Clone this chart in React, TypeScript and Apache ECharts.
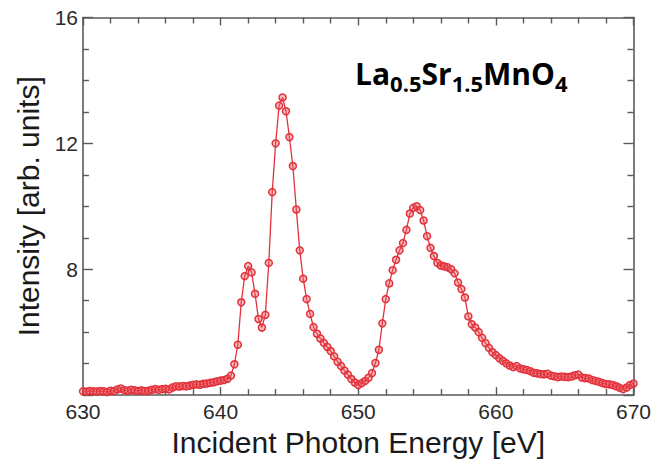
import React, { useEffect, useRef } from "react";
import * as echarts from "echarts";

const energies: number[] = [
  630.0, 630.25, 630.5, 630.75, 631.0, 631.25, 631.5, 631.75, 632.0, 632.25, 632.5, 632.75,
  633.0, 633.25, 633.5, 633.75, 634.0, 634.25, 634.5, 634.75, 635.0, 635.25, 635.5, 635.75,
  636.0, 636.25, 636.5, 636.75, 637.0, 637.25, 637.5, 637.75, 638.0, 638.25, 638.5, 638.75,
  639.0, 639.25, 639.5, 639.75, 640.0, 640.25, 640.5, 640.75, 641.0, 641.25, 641.5, 641.75,
  642.0, 642.25, 642.5, 642.75, 643.0, 643.25, 643.5, 643.75, 644.0, 644.25, 644.5, 644.75,
  645.0, 645.25, 645.5, 645.75, 646.0, 646.25, 646.5, 646.75, 647.0, 647.25, 647.5, 647.75,
  648.0, 648.25, 648.5, 648.75, 649.0, 649.25, 649.5, 649.75, 650.0, 650.25, 650.5, 650.75,
  651.0, 651.25, 651.5, 651.75, 652.0, 652.25, 652.5, 652.75, 653.0, 653.25, 653.5, 653.75,
  654.0, 654.25, 654.5, 654.75, 655.0, 655.25, 655.5, 655.75, 656.0, 656.25, 656.5, 656.75,
  657.0, 657.25, 657.5, 657.75, 658.0, 658.25, 658.5, 658.75, 659.0, 659.25, 659.5, 659.75,
  660.0, 660.25, 660.5, 660.75, 661.0, 661.25, 661.5, 661.75, 662.0, 662.25, 662.5, 662.75,
  663.0, 663.25, 663.5, 663.75, 664.0, 664.25, 664.5, 664.75, 665.0, 665.25, 665.5, 665.75,
  666.0, 666.25, 666.5, 666.75, 667.0, 667.25, 667.5, 667.75, 668.0, 668.25, 668.5, 668.75,
  669.0, 669.25, 669.5, 669.75, 670.0,
];

const intensities: number[] = [
  4.12, 4.11, 4.13, 4.12, 4.11, 4.13, 4.12, 4.1, 4.14, 4.13, 4.18, 4.21,
  4.16, 4.14, 4.17, 4.15, 4.13, 4.15, 4.13, 4.14, 4.17, 4.19, 4.17, 4.19,
  4.2, 4.18, 4.24, 4.28, 4.27, 4.29, 4.28, 4.3, 4.33, 4.34, 4.33, 4.36,
  4.37, 4.39, 4.41, 4.44, 4.46, 4.48, 4.52, 4.62, 4.98, 5.6, 6.95, 7.78,
  8.1, 7.9, 7.22, 6.42, 6.15, 6.55, 8.2, 10.45, 12.0, 13.2, 13.46, 13.02,
  12.2, 11.28, 9.9, 8.6, 7.7, 7.05, 6.58, 6.16, 5.95, 5.8, 5.66, 5.53,
  5.4, 5.23, 5.06, 4.92, 4.78, 4.65, 4.51, 4.4, 4.32, 4.38, 4.45, 4.55,
  4.7, 5.02, 5.44, 6.28, 7.05, 7.55, 7.97, 8.3, 8.6, 8.83, 9.25, 9.77,
  9.95, 10.0, 9.88, 9.55, 9.05, 8.68, 8.42, 8.2, 8.12, 8.09, 8.06, 8.0,
  7.87, 7.58, 7.37, 7.1, 6.5, 6.25, 6.15, 6.0, 5.82, 5.65, 5.5, 5.36,
  5.27, 5.17, 5.09, 5.01, 4.94, 4.89, 4.92, 4.85, 4.82, 4.8, 4.76, 4.71,
  4.69, 4.67, 4.66, 4.68, 4.62, 4.6, 4.57, 4.59, 4.58, 4.57, 4.59, 4.63,
  4.65, 4.56, 4.54, 4.53, 4.48, 4.45, 4.42, 4.38, 4.35, 4.34, 4.32, 4.28,
  4.23, 4.19, 4.24, 4.32, 4.37,
];

const xTitle = "Incident Photon Energy [eV]";
const yTitle = "Intensity [arb. units]";
const xRange = [630, 670];
const yRange = [4, 16];

const FONT = "'Liberation Sans', Arial, Helvetica, sans-serif";
const AXIS_COLOR = "#5a5a5a";
const RED = "#e3313b";

export default function App() {
  const ref = useRef<HTMLDivElement>(null);

  useEffect(() => {
    if (!ref.current) return;
    const chart = echarts.init(ref.current, undefined, { renderer: "svg" });
    const data = energies.map((e, i) => [e, intensities[i]]);

    const axisLine = { show: true, lineStyle: { color: AXIS_COLOR, width: 1.6 } };
    const tickStyle = { color: AXIS_COLOR, width: 1.4 };

    chart.setOption({
      animation: false,
      backgroundColor: "#ffffff",
      grid: { left: 83, right: 20, top: 17.5, bottom: 61 },
      xAxis: [
        {
          type: "value",
          min: xRange[0],
          max: xRange[1],
          interval: 10,
          position: "bottom",
          axisLine,
          axisTick: { show: true, inside: true, length: 8, lineStyle: tickStyle },
          minorTick: { show: true, splitNumber: 5, length: 6, lineStyle: tickStyle },
          splitLine: { show: false },
          axisLabel: { fontSize: 21, color: "#2a2a2a", fontFamily: FONT, margin: 6 },
          name: xTitle,
          nameLocation: "middle",
          nameGap: 25,
          nameTextStyle: { fontSize: 30, color: "#1a1a1a", fontFamily: FONT },
        },
        {
          type: "value",
          min: xRange[0],
          max: xRange[1],
          interval: 10,
          position: "top",
          axisLine,
          axisTick: { show: true, inside: true, length: 8, lineStyle: tickStyle },
          minorTick: { show: true, splitNumber: 5, length: 6, lineStyle: tickStyle },
          splitLine: { show: false },
          axisLabel: { show: false },
        },
      ],
      yAxis: [
        {
          type: "value",
          min: yRange[0],
          max: yRange[1],
          interval: 4,
          position: "left",
          axisLine,
          axisTick: { show: true, inside: true, length: 10, lineStyle: tickStyle },
          minorTick: { show: true, splitNumber: 4, length: 6, lineStyle: tickStyle },
          splitLine: { show: false },
          axisLabel: { fontSize: 21, color: "#2a2a2a", fontFamily: FONT, margin: 5, showMinLabel: false },
          name: yTitle,
          nameLocation: "middle",
          nameGap: 38,
          nameTextStyle: { fontSize: 30, color: "#1a1a1a", fontFamily: FONT },
        },
        {
          type: "value",
          min: yRange[0],
          max: yRange[1],
          interval: 4,
          position: "right",
          axisLine,
          axisTick: { show: true, inside: true, length: 10, lineStyle: tickStyle },
          minorTick: { show: true, splitNumber: 4, length: 6, lineStyle: tickStyle },
          splitLine: { show: false },
          axisLabel: { show: false },
        },
      ],
      series: [
        {
          type: "line",
          data,
          xAxisIndex: 0,
          yAxisIndex: 0,
          symbol: "circle",
          symbolSize: 7,
          showAllSymbol: true,
          lineStyle: { color: RED, width: 1.3 },
          itemStyle: { color: "rgba(235,90,95,0.4)", borderColor: RED, borderWidth: 1.5 },
        },
      ],
      graphic: [
        {
          type: "text",
          left: 355,
          top: 58,
          style: {
            text: "{m|La}{s|0.5}{m|Sr}{s|1.5}{m|MnO}{s|4}",
            fontFamily: "'Open Sans', 'Noto Sans', sans-serif",
            rich: {
              m: { fontSize: 30, fontWeight: "bold", lineHeight: 36, fill: "#000", fontFamily: "'Open Sans', 'Noto Sans', sans-serif", verticalAlign: "top" },
              s: { fontSize: 22, fontWeight: "bold", lineHeight: 22, fill: "#000", fontFamily: "'Open Sans', 'Noto Sans', sans-serif", verticalAlign: "bottom" },
            },
          },
        },
      ],
    });

    return () => chart.dispose();
  }, []);

  return (
    <div
      ref={ref}
      style={{ position: "fixed", left: 0, top: 0, width: 654, height: 462, background: "#fff" }}
    />
  );
}
